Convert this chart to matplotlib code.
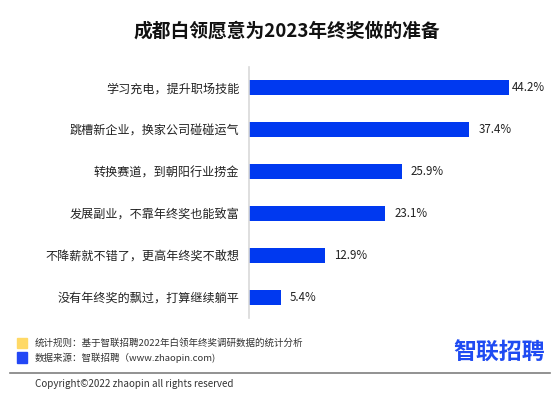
import matplotlib
matplotlib.use('Agg')
import matplotlib.pyplot as plt
from matplotlib.patches import Rectangle
from matplotlib.lines import Line2D

plt.rcParams['font.family'] = ['Noto Sans CJK SC', 'DejaVu Sans']

title = '成都白领愿意为2023年终奖做的准备'
categories = [
    '学习充电，提升职场技能',
    '跳槽新企业，换家公司碰碰运气',
    '转换赛道，到朝阳行业捞金',
    '发展副业，不靠年终奖也能致富',
    '不降薪就不错了，更高年终奖不敢想',
    '没有年终奖的飘过，打算继续躺平',
]
values = [44.2, 37.4, 25.9, 23.1, 12.9, 5.4]
note_rule = '统计规则：基于智联招聘2022年白领年终奖调研数据的统计分析'
note_source = '数据来源：智联招聘（www.zhaopin.com)'
copyright_text = 'Copyright©2022 zhaopin all rights reserved'

W, H = 554, 395
fig = plt.figure(figsize=(W / 100, H / 100), dpi=100)

# axes placed in pixel terms: left edge at x=249, y from 67 to 318
ax = fig.add_axes([249 / W, (H - 318) / H, 294.5 / W, 251 / H])
y = list(range(len(categories)))
ax.barh(y, values, height=0.36, color='#0039F0')
ax.set_ylim(len(categories) - 0.5, -0.5)
ax.set_xlim(0, 50)
for i, v in enumerate(values):
    # labels sit ~9px after the bar unless there is no room left
    pad = 1.55 if v + 1.55 + 6 < 50 else 0.5
    ax.text(v + pad, i, f'{v}%', va='center', ha='left', fontsize=8.3, color='#222222')
ax.set_yticks(y)
ax.set_yticklabels(categories, fontsize=8.7, color='#222222')
ax.tick_params(axis='y', length=0, pad=7)
ax.set_xticks([])
for s in ['top', 'right', 'bottom']:
    ax.spines[s].set_visible(False)
ax.spines['left'].set_color('#d9d9d9')
ax.spines['left'].set_linewidth(1.2)

fig.text(287 / W, 1 - 31 / H, title, ha='center', va='center',
         fontsize=13.5, fontweight='bold', color='#111111')

# notes at the bottom
fig.patches.append(Rectangle((17 / W, 1 - 348 / H), 10 / W, 10 / H,
                             transform=fig.transFigure, color='#FFD966'))
fig.patches.append(Rectangle((17 / W, 1 - 363 / H), 10 / W, 11 / H,
                             transform=fig.transFigure, color='#2347F5'))
fig.text(35 / W, 1 - 343 / H, note_rule, fontsize=6.85, va='center', color='#333333')
fig.text(35 / W, 1 - 358 / H, note_source, fontsize=6.85, va='center', color='#333333')
fig.text(499 / W, 1 - 353 / H, '智联招聘', fontsize=16.5, fontweight='bold',
         ha='center', va='center', color='#1F4BF2')
fig.lines.append(Line2D([10 / W, 550 / W], [1 - 373 / H, 1 - 373 / H],
                        transform=fig.transFigure, color='#7f7f7f', linewidth=1.2))
fig.text(35 / W, 1 - 384 / H, copyright_text, fontsize=7.1, va='center', color='#333333')

fig.savefig('out.png', dpi=100)
